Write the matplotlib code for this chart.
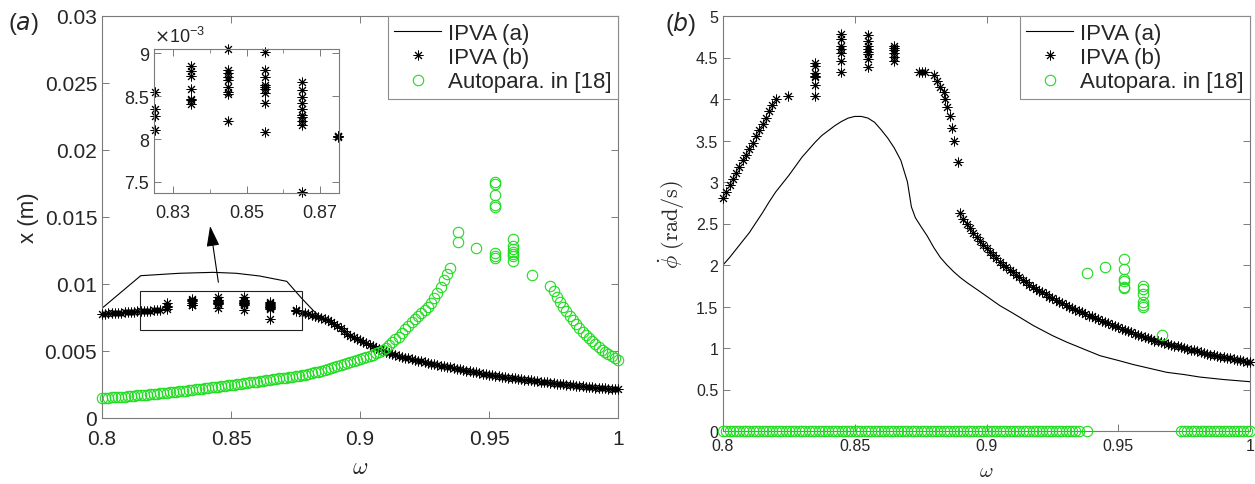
import numpy as np
import matplotlib
matplotlib.use("Agg")
import matplotlib.pyplot as plt
from matplotlib.lines import Line2D
from matplotlib.patches import Rectangle
from matplotlib.ticker import FuncFormatter, FixedLocator

plt.rcParams['font.family'] = ['Liberation Sans', 'DejaVu Sans']
plt.rcParams['mathtext.fontset'] = 'cm'

# ---------------- panel (a): displacement amplitude x (m) ----------------
# IPVA (b): branch below the band of scattered responses
xb_low_w = np.linspace(0.800, 0.8225, 19)
xb_low = np.array([7.76, 7.78, 7.80, 7.81, 7.83, 7.85, 7.87, 7.88, 7.90, 7.92,
                   7.93, 7.95, 7.97, 7.98, 8.00, 8.02, 8.03, 8.05, 8.07]) * 1e-3

# IPVA (b): scattered responses (one column per frequency)
cluster_w = [0.825, 0.835, 0.845, 0.855, 0.865, 0.875]
cluster_x = [
    [8.55, 8.35, 8.27, 8.11],
    [8.85, 8.79, 8.74, 8.58, 8.47, 8.45, 8.41],
    [9.05, 8.81, 8.77, 8.72, 8.69, 8.61, 8.55, 8.52, 8.21],
    [9.01, 8.80, 8.72, 8.63, 8.61, 8.58, 8.54, 8.42, 8.08],
    [8.66, 8.57, 8.49, 8.42, 8.35, 8.28, 8.26, 8.21, 8.16, 7.38],
    [8.03, 8.03, 8.02],
]

# IPVA (b): branch above the band
xb_high_w = np.linspace(0.8775, 1.0, 99)
xb_high = np.array([
    7.85, 7.80, 7.75, 7.69, 7.63, 7.56, 7.48, 7.40, 7.30, 7.17,
    7.02, 6.86, 6.70, 6.50, 6.30, 6.15, 6.02, 5.91, 5.80, 5.69,
    5.58, 5.47, 5.36, 5.24, 5.13, 5.03, 4.94, 4.86, 4.78, 4.71,
    4.64, 4.57, 4.51, 4.45, 4.39, 4.33, 4.28, 4.22, 4.17, 4.11,
    4.06, 4.01, 3.96, 3.91, 3.86, 3.81, 3.77, 3.72, 3.67, 3.62,
    3.58, 3.53, 3.49, 3.44, 3.40, 3.35, 3.31, 3.27, 3.23, 3.19,
    3.16, 3.12, 3.09, 3.05, 3.02, 2.98, 2.95, 2.92, 2.89, 2.86,
    2.83, 2.80, 2.77, 2.74, 2.71, 2.68, 2.65, 2.62, 2.60, 2.57,
    2.54, 2.51, 2.49, 2.46, 2.44, 2.41, 2.39, 2.36, 2.34, 2.32,
    2.30, 2.27, 2.25, 2.23, 2.21, 2.19, 2.17, 2.15, 2.13]) * 1e-3

# IPVA (a): envelope line (joins the (b) branch for higher frequencies)
xa_w = [0.800, 0.815, 0.830, 0.843, 0.852, 0.861, 0.8716, 0.8774, 0.882]
xa = np.array([8.19, 10.62, 10.80, 10.87, 10.80, 10.60, 10.20, 8.93, 8.00]) * 1e-3

# Autoparametric absorber [18]
g_rise_w = np.linspace(0.800, 0.935, 109)
g_rise_x = np.array([
    1.49, 1.50, 1.52, 1.53, 1.55, 1.56, 1.58, 1.60, 1.62, 1.64,
    1.66, 1.68, 1.70, 1.72, 1.75, 1.77, 1.80, 1.82, 1.84, 1.86,
    1.89, 1.91, 1.94, 1.96, 1.99, 2.01, 2.04, 2.07, 2.10, 2.13,
    2.16, 2.19, 2.22, 2.25, 2.28, 2.31, 2.34, 2.37, 2.40, 2.43,
    2.46, 2.49, 2.53, 2.56, 2.59, 2.62, 2.66, 2.69, 2.72, 2.75,
    2.79, 2.82, 2.85, 2.88, 2.92, 2.95, 2.99, 3.02, 3.06, 3.09,
    3.13, 3.16, 3.20, 3.24, 3.29, 3.34, 3.40, 3.45, 3.51, 3.57,
    3.64, 3.71, 3.79, 3.86, 3.94, 4.02, 4.10, 4.17, 4.25, 4.32,
    4.40, 4.47, 4.54, 4.63, 4.72, 4.82, 4.92, 5.08, 5.25, 5.45,
    5.65, 5.86, 6.07, 6.35, 6.62, 6.90, 7.18, 7.40, 7.62, 7.85,
    8.05, 8.30, 8.55, 8.92, 9.30, 9.80, 10.30, 10.75, 11.20]) * 1e-3
g_fall_w = np.linspace(0.97375, 1.0, 22)
g_fall_x = np.array([9.87, 9.45, 9.00, 8.65, 8.30, 7.95, 7.62, 7.30, 7.00, 6.72,
                     6.45, 6.20, 5.95, 5.72, 5.50, 5.30, 5.10, 4.94, 4.80, 4.64,
                     4.50, 4.35]) * 1e-3
g_iso_w = [0.9379, 0.9379, 0.945] + [0.9522] * 8 + [0.9594] * 7 + [0.9666]
g_iso_x = np.array([13.9, 13.1, 12.66,
                    17.59, 17.46, 16.66, 15.90, 15.72, 12.31, 12.11, 11.92,
                    13.36, 12.81, 12.61, 12.41, 12.24, 12.07, 11.74,
                    10.67]) * 1e-3

# ---------------- panel (b): pendulum angular velocity ----------------
pb_low_w = np.linspace(0.800, 0.820, 17)
pb_low = [2.81, 2.885, 2.96, 3.035, 3.11, 3.185, 3.26, 3.33, 3.40, 3.475,
          3.55, 3.625, 3.70, 3.775, 3.85, 3.925, 4.00]
pcluster_w = [0.8248, 0.8348, 0.8449, 0.855, 0.865]
pcluster = [
    [4.04],
    [4.43, 4.40, 4.31, 4.28, 4.26, 4.17, 4.04],
    [4.78, 4.72, 4.64, 4.60, 4.56, 4.46, 4.32],
    [4.77, 4.70, 4.64, 4.60, 4.57, 4.54, 4.48, 4.39],
    [4.64, 4.61, 4.59, 4.56, 4.51, 4.46],
]
pb_knee_w = [0.8745, 0.8755, 0.8765, 0.8799, 0.8812, 0.8824, 0.8837,
             0.8843, 0.885, 0.886, 0.8868, 0.8877, 0.889]
pb_knee = [4.33, 4.33, 4.33, 4.29, 4.22, 4.14, 4.08, 4.00, 3.90, 3.79,
           3.65, 3.49, 3.24]
pb_high_w = np.linspace(0.890, 1.0, 89)
pb_high = [
    2.63, 2.56, 2.50, 2.44, 2.39, 2.34, 2.29, 2.24, 2.20, 2.16,
    2.12, 2.08, 2.04, 2.00, 1.97, 1.94, 1.91, 1.88, 1.85, 1.82,
    1.79, 1.76, 1.74, 1.71, 1.69, 1.67, 1.65, 1.62, 1.60, 1.58,
    1.56, 1.54, 1.52, 1.50, 1.48, 1.46, 1.45, 1.43, 1.41, 1.39,
    1.38, 1.36, 1.35, 1.33, 1.31, 1.30, 1.28, 1.26, 1.25, 1.23,
    1.22, 1.20, 1.19, 1.17, 1.16, 1.14, 1.13, 1.12, 1.11, 1.09,
    1.08, 1.07, 1.06, 1.05, 1.04, 1.03, 1.02, 1.01, 1.00, 0.99,
    0.98, 0.97, 0.96, 0.95, 0.94, 0.93, 0.92, 0.912, 0.905, 0.897,
    0.89, 0.882, 0.875, 0.867, 0.86, 0.852, 0.845, 0.837, 0.83]
pa_w = [0.800, 0.8025, 0.805, 0.8075, 0.810, 0.8125, 0.815, 0.8175, 0.820,
        0.8225, 0.825, 0.8275, 0.830, 0.8325, 0.835, 0.8375, 0.840, 0.8425,
        0.845, 0.8475, 0.850, 0.8525, 0.855, 0.8575, 0.860, 0.8625, 0.865,
        0.8675, 0.870, 0.8715, 0.873, 0.875, 0.8775, 0.880, 0.8825, 0.885,
        0.8875, 0.890, 0.8925, 0.8975, 0.9051, 0.910, 0.9178, 0.925, 0.9305,
        0.9431, 0.950, 0.9558, 0.9684, 0.975, 0.981, 0.990, 1.0]
pa = [2.00, 2.09, 2.19, 2.29, 2.39, 2.51, 2.63, 2.76, 2.88,
      2.98, 3.08, 3.19, 3.30, 3.39, 3.48, 3.56, 3.62, 3.68,
      3.73, 3.77, 3.79, 3.79, 3.77, 3.72, 3.63, 3.53, 3.41,
      3.26, 3.00, 2.70, 2.57, 2.47, 2.35, 2.21, 2.09, 2.00,
      1.92, 1.85, 1.79, 1.68, 1.51, 1.42, 1.27, 1.15, 1.07,
      0.907, 0.85, 0.80, 0.707, 0.68, 0.65, 0.62, 0.594]
pg_zero_w = list(g_rise_w) + [0.938] + list(g_fall_w)
pg_iso_w = [0.9381, 0.945] + [0.9523] * 6 + [0.9595] * 6 + [0.9667]
pg_iso = [1.90, 1.97, 2.07, 1.95, 1.83, 1.81, 1.74, 1.72,
          1.75, 1.71, 1.65, 1.55, 1.52, 1.49, 1.16]

x_ticks = [0.8, 0.85, 0.9, 0.95, 1.0]
x_ticklabels = ['0.8', '0.85', '0.9', '0.95', '1']

# ---------------- styling ----------------
W, H = 1255, 485
SPINE = '#7a7a7a'
TXT = '#262626'
GREEN = '#1fdc1f'
STAR = dict(marker=(8, 2, 0), ms=7, mec='k', mew=0.7, ls='none')
CIRC = dict(marker='o', ms=7.5, mfc='none', mec=GREEN, mew=0.8, ls='none')


def frac(x0, y0, x1, y1):
    return [x0 / W, 1 - y1 / H, (x1 - x0) / W, (y1 - y0) / H]


def style(ax, size):
    for s in ax.spines.values():
        s.set_color(SPINE)
        s.set_linewidth(0.8)
    ax.tick_params(direction='in', top=True, right=True, length=5,
                   width=0.7, color=SPINE, labelcolor=TXT, labelsize=size)
    ax.tick_params(which='minor', direction='in', top=True, right=True,
                   length=3, width=0.6, color=SPINE)


def add_legend(ax):
    leg = ax.legend(
        handles=[Line2D([], [], color='k', lw=0.8),
                 Line2D([], [], **STAR),
                 Line2D([], [], **CIRC)],
        labels=['IPVA (a)', 'IPVA (b)', 'Autopara. in [18]'],
        loc='upper right', bbox_to_anchor=(1.0, 1.0), borderaxespad=0,
        fontsize=16, frameon=True, fancybox=False, framealpha=1,
        edgecolor='#8c8c8c', handlelength=2.1, handletextpad=0.3,
        labelspacing=0.15, borderpad=0.3)
    leg.get_frame().set_linewidth(0.8)
    for t in leg.get_texts():
        t.set_color(TXT)
    return leg


fig = plt.figure(figsize=(W / 100, H / 100), dpi=100)

# ---- (a) ----
ax1 = fig.add_axes(frac(102, 17, 618, 419))
ax1.plot(list(xa_w) + list(xb_high_w[6:]), list(xa) + list(xb_high[6:]),
         color='k', lw=0.8, zorder=2)
ax1.plot(xb_low_w, xb_low, clip_on=False, zorder=3, **STAR)
for w, vals in zip(cluster_w, cluster_x):
    ax1.plot([w] * len(vals), np.array(vals) * 1e-3, zorder=3, **STAR)
ax1.plot(xb_high_w, xb_high, clip_on=False, zorder=3, **STAR)
ax1.plot(g_rise_w, g_rise_x, clip_on=False, zorder=4, **CIRC)
ax1.plot(g_fall_w, g_fall_x, clip_on=False, zorder=4, **CIRC)
ax1.plot(g_iso_w, g_iso_x, clip_on=False, zorder=4, **CIRC)
ax1.set_xlim(0.8, 1.0)
ax1.set_ylim(0, 0.03)
ax1.set_xticks(x_ticks, x_ticklabels)
ax1.set_yticks([0, 0.005, 0.01, 0.015, 0.02, 0.025, 0.03],
               ['0', '0.005', '0.01', '0.015', '0.02', '0.025', '0.03'])
style(ax1, 15)
ax1.tick_params(axis='x', pad=8)
ax1.set_xlabel(r'$\omega$', fontsize=17, color=TXT, labelpad=6)
ax1.set_ylabel('x (m)', fontsize=16, color=TXT, labelpad=4)

ax1.add_patch(Rectangle((0.8147, 0.00657), 0.8774 - 0.8147, 0.0095 - 0.00657,
                        fill=False, ec='#222222', lw=0.8, zorder=5))
ax1.annotate('', xy=(0.8419, 0.01433), xytext=(0.8451, 0.01013),
             arrowprops=dict(arrowstyle='-|>,head_length=0.7,head_width=0.22',
                             color='k', lw=0.8, mutation_scale=18,
                             shrinkA=0, shrinkB=0))
add_legend(ax1)

# inset: zoom on the scattered responses
axi = fig.add_axes(frac(154, 50, 339, 194))
for w, vals in zip(cluster_w, cluster_x):
    axi.plot([w] * len(vals), np.array(vals) * 1e-3, clip_on=False, **STAR)
axi.set_xlim(0.8248, 0.8752)
axi.set_ylim(7.37e-3, 9.05e-3)
axi.set_xticks([0.83, 0.85, 0.87], ['0.83', '0.85', '0.87'])
axi.xaxis.set_minor_locator(FixedLocator([0.84, 0.86]))
axi.set_yticks([7.5e-3, 8e-3, 8.5e-3, 9e-3])
axi.yaxis.set_major_formatter(FuncFormatter(lambda v, p: f'{v * 1e3:g}'))
style(axi, 13)
axi.tick_params(axis='x', pad=8)
axi.text(0.0, 1.02, r'$\times\mathregular{10^{-3}}$', transform=axi.transAxes,
         fontsize=13, color=TXT, ha='left', va='bottom',
         math_fontfamily='dejavusans')

# ---- (b) ----
ax2 = fig.add_axes(frac(723, 17, 1250, 432))
ax2.plot(pa_w, pa, color='k', lw=0.8, zorder=2)
ax2.plot(pb_low_w, pb_low, clip_on=False, zorder=3, **STAR)
for w, vals in zip(pcluster_w, pcluster):
    ax2.plot([w] * len(vals), vals, zorder=3, **STAR)
ax2.plot(pb_knee_w, pb_knee, zorder=3, **STAR)
ax2.plot(pb_high_w, pb_high, clip_on=False, zorder=3, **STAR)
ax2.plot(pg_zero_w, np.zeros(len(pg_zero_w)), clip_on=False, zorder=4, **CIRC)
ax2.plot(pg_iso_w, pg_iso, clip_on=False, zorder=4, **CIRC)
ax2.set_xlim(0.8, 1.0)
ax2.set_ylim(0, 5)
ax2.set_xticks(x_ticks, x_ticklabels)
ax2.set_yticks(np.arange(0, 5.01, 0.5),
               ['0', '0.5', '1', '1.5', '2', '2.5', '3', '3.5', '4', '4.5', '5'])
style(ax2, 11.5)
ax2.tick_params(axis='x', pad=5)
ax2.set_xlabel(r'$\omega$', fontsize=15, color=TXT, labelpad=6)
ax2.set_ylabel(r'$\dot{\phi}\ \mathrm{(rad/s)}$', fontsize=16, color=TXT,
               labelpad=6)
add_legend(ax2)

# panel tags
fig.text(8 / W, 1 - 24 / H, r'($a$)', fontsize=17, color=TXT, va='center',
         math_fontfamily='dejavusans')
fig.text(665 / W, 1 - 24 / H, r'($b$)', fontsize=17, color=TXT, va='center',
         math_fontfamily='dejavusans')

fig.savefig('out.png', dpi=100)
